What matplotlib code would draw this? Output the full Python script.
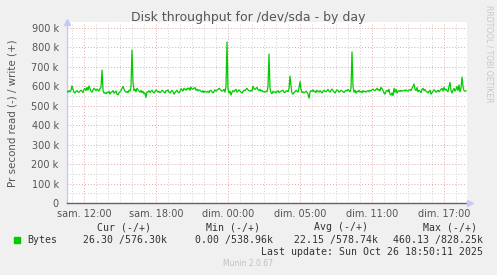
import matplotlib
matplotlib.use("Agg")
import matplotlib.pyplot as plt
from matplotlib.ticker import FixedLocator, MultipleLocator, FuncFormatter
import numpy as np

# ---------------- data ----------------
# write throughput (bytes/s, in thousands), one sample per 5 minutes
write_k = [
    575, 570, 578, 572, 580, 602, 585, 570, 566, 574, 578, 571, 569, 576, 580, 575, 568, 585, 590, 578,
    595, 580, 602, 588, 575, 570, 582, 590, 584, 578, 586, 580, 575, 588, 596, 684, 580, 565, 568, 562,
    570, 566, 575, 560, 568, 572, 578, 565, 570, 576, 560, 556, 566, 572, 578, 590, 600, 585, 576, 570,
    574, 568, 580, 575, 600, 787, 620, 578, 585, 572, 590, 582, 575, 570, 580, 568, 575, 562, 566, 543,
    572, 570, 578, 568, 575, 580, 570, 566, 574, 581, 578, 570, 575, 568, 572, 580, 576, 570, 565, 578,
    576, 582, 570, 566, 573, 579, 572, 560, 568, 575, 580, 570, 566, 574, 588, 582, 576, 590, 585, 580,
    590, 585, 592, 580, 596, 588, 585, 590, 594, 580, 586, 576, 582, 580, 575, 570, 578, 568, 575, 572,
    570, 575, 568, 578, 580, 572, 566, 574, 582, 575, 580, 584, 590, 586, 580, 575, 578, 585, 570, 600,
    828, 585, 565, 575, 555, 570, 578, 572, 580, 585, 570, 575, 582, 576, 570, 565, 574, 580, 578, 585,
    590, 582, 578, 575, 580, 575, 600, 588, 584, 590, 595, 582, 578, 585, 576, 580, 572, 574, 570, 575,
    572, 600, 766, 590, 568, 562, 575, 570, 572, 566, 574, 578, 568, 572, 575, 578, 580, 570, 568, 575,
    578, 572, 590, 653, 600, 565, 560, 568, 572, 580, 575, 570, 590, 624, 585, 568, 572, 566, 570, 575,
    570, 560, 539, 570, 578, 574, 582, 572, 576, 568, 580, 575, 570, 578, 572, 566, 576, 580, 574, 572,
    578, 584, 575, 570, 580, 586, 578, 572, 565, 575, 582, 578, 570, 574, 580, 576, 572, 568, 575, 580,
    576, 584, 578, 572, 590, 777, 600, 570, 580, 565, 575, 572, 580, 570, 575, 568, 578, 572, 576, 570,
    575, 578, 572, 580, 576, 582, 586, 580, 578, 584, 590, 580, 585, 576, 595, 588, 580, 566, 560, 575,
    580, 572, 585, 560, 555, 566, 552, 590, 570, 585, 565, 575, 578, 572, 580, 575, 578, 580, 576, 582,
    578, 575, 580, 584, 578, 590, 600, 612, 585, 578, 594, 572, 580, 575, 568, 585, 590, 578, 584, 575,
    572, 566, 575, 580, 560, 568, 575, 582, 578, 570, 575, 580, 572, 578, 585, 590, 575, 595, 580, 586,
    578, 572, 600, 620, 578, 566, 580, 590, 575, 585, 600, 578, 607, 572, 590, 648, 600, 578, 575, 576.3,
]
start_hour = 10 + 35 / 60          # first sample: sam. 10:35
step_hours = 5 / 60                # 5-minute samples

tick_hours = [12, 18, 24, 30, 36, 42]
tick_labels = ["sam. 12:00", "sam. 18:00", "dim. 00:00", "dim. 05:00", "dim. 11:00", "dim. 17:00"]

legend_headers = ["Cur (-/+)", "Min (-/+)", "Avg (-/+)", "Max (-/+)"]
legend_values = ["26.30 /576.30k", "0.00 /538.96k", "22.15 /578.74k", "460.13 /828.25k"]
series_name = "Bytes"

# ---------------- figure ----------------
W, H = 497, 275
fig = plt.figure(figsize=(W / 100, H / 100), dpi=100, facecolor="#F0F0F0")

def fx(x):
    return x / W

def fy(y):
    return 1 - y / H

L, R, T, B = 67, 467, 22, 203
ax = fig.add_axes([fx(L), fy(B), (R - L) / W, (B - T) / H])
ax.set_facecolor("white")

x = start_hour + np.arange(len(write_k)) * step_hours
y = np.array(write_k) * 1000.0
ax.plot(x, y, color="#00CC00", lw=0.9, zorder=3)

x0 = start_hour
x1 = start_hour + 400 * step_hours
ax.set_xlim(x0, x1)
ax.set_ylim(0, 931000)

# grids
ax.xaxis.set_major_locator(FixedLocator(tick_hours))
ax.xaxis.set_minor_locator(MultipleLocator(1))
ax.yaxis.set_major_locator(MultipleLocator(100000))
ax.yaxis.set_minor_locator(MultipleLocator(50000))
ax.set_xticklabels(tick_labels)
ax.yaxis.set_major_formatter(FuncFormatter(lambda v, p: "0" if v == 0 else f"{int(v/1000)} k"))

ax.grid(which="minor", color="#D0D0D0", lw=0.7, linestyle=(0, (1, 2)), zorder=1)
ax.grid(which="major", color="#E0A8A8", lw=0.7, linestyle=(0, (1, 2)), zorder=2)

ax.tick_params(which="both", length=0)
ax.tick_params(axis="y", labelsize=7, labelcolor="#555555", pad=6)
ax.tick_params(axis="x", labelsize=7, labelcolor="#555555", pad=4)

for s in ["top", "right"]:
    ax.spines[s].set_visible(False)
ax.spines["left"].set_color("#C8C8F0")
ax.spines["left"].set_linewidth(1.0)
ax.spines["bottom"].set_color("#606078")
ax.spines["bottom"].set_linewidth(1.0)
ax.set_axisbelow(True)

# axis arrows
ax.plot([x0], [931000], marker="^", color="#C8C8F8", ms=4, clip_on=False, zorder=5)
ax.plot([x1 + 0.25], [0], marker=">", color="#C8C8F8", ms=4, clip_on=False, zorder=5)

# titles
fig.text(fx(248), fy(18), "Disk throughput for /dev/sda - by day", ha="center", va="center",
         fontsize=9, color="#555555")
fig.text(fx(13), fy(113), "Pr second read (-) / write (+)", rotation=90, ha="center", va="center",
         fontsize=7.4, color="#555555")
fig.text(fx(489), fy(54), "RRDTOOL / TOBI OETIKER", rotation=270, ha="center", va="center",
         fontsize=5.5, color="#C8C8C8")

# legend
mono = "DejaVu Sans Mono"
fs = 7.1
hdr_right = [151, 260, 368, 477]
val_right = [167, 273, 378, 483]
for h, xr in zip(legend_headers, hdr_right):
    fig.text(fx(xr), fy(227), h, ha="right", va="center", family=mono, fontsize=fs, color="#333333")
for v, xr in zip(legend_values, val_right):
    fig.text(fx(xr), fy(240), v, ha="right", va="center", family=mono, fontsize=fs, color="#333333")
fig.patches.append(plt.Rectangle((fx(14), fy(243)), 6 / W, 6 / H, transform=fig.transFigure,
                                 color="#00CC00", figure=fig))
fig.text(fx(27), fy(240), series_name, ha="left", va="center", family=mono, fontsize=fs, color="#333333")
fig.text(fx(483), fy(252), "Last update: Sun Oct 26 18:50:11 2025", ha="right", va="center",
         family=mono, fontsize=fs, color="#333333")
fig.text(fx(248), fy(264), "Munin 2.0.67", ha="center", va="center", fontsize=5.5, color="#C0C0C0")

fig.savefig("out.png", dpi=100, facecolor=fig.get_facecolor())
